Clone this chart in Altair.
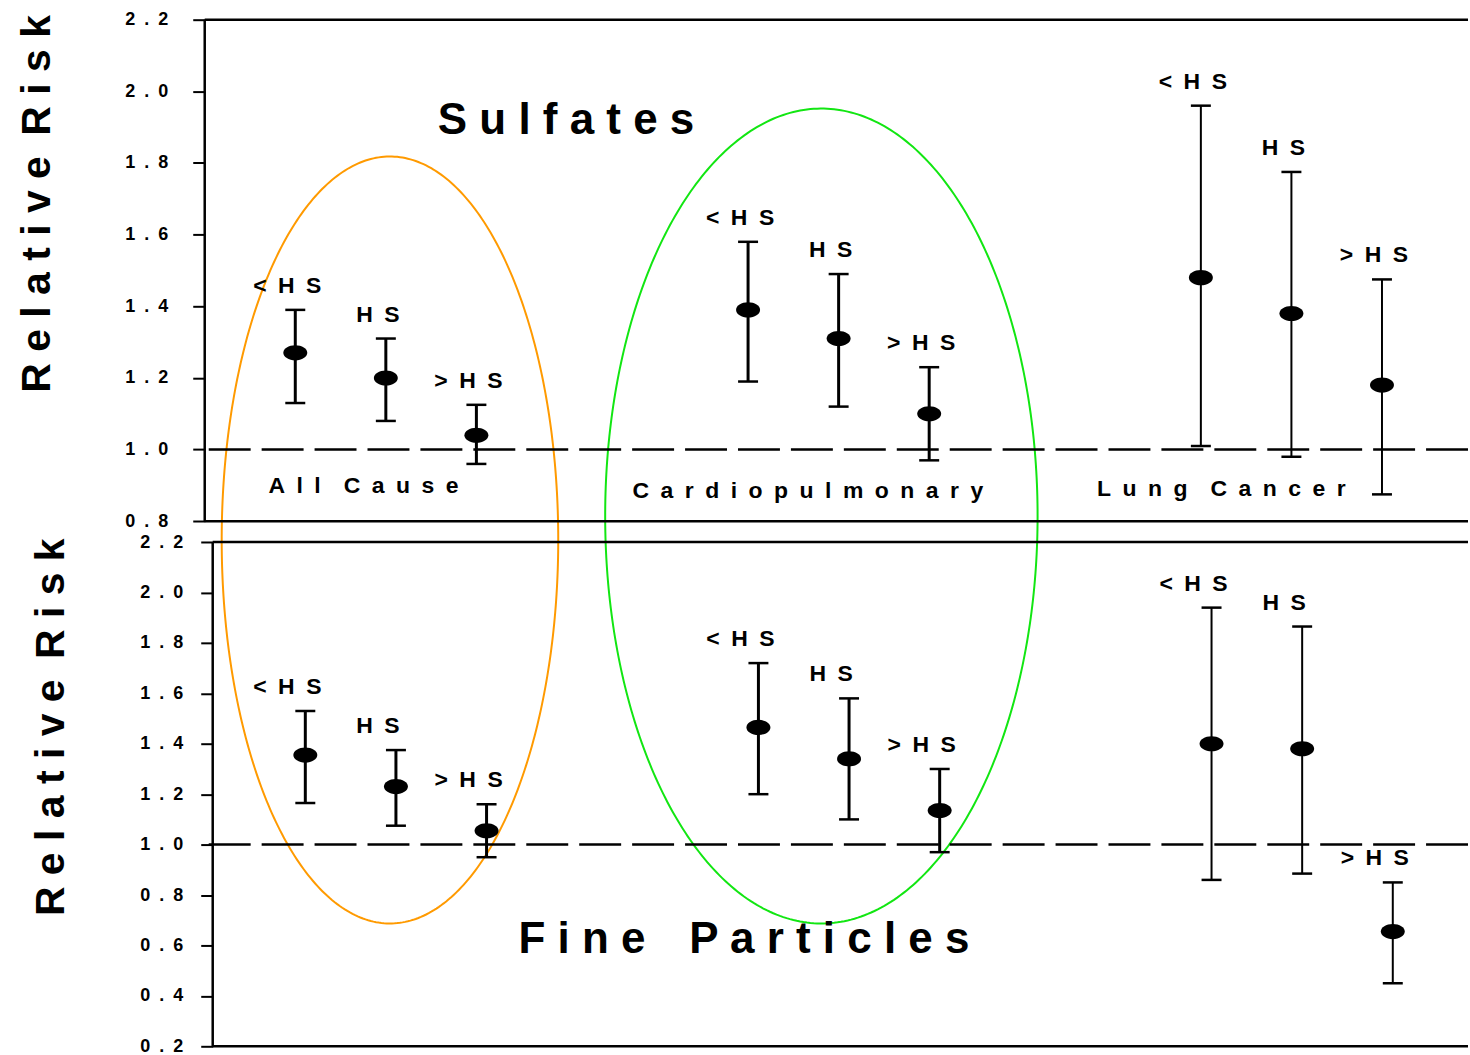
import altair as alt
import numpy as np
import pandas as pd

# ---------------- data ----------------
causes = ["All Cause", "Cardiopulmonary", "Lung Cancer"]
levels = ["<HS", "HS", ">HS"]
level_text = ["<\u2002H\u2002S", "H\u2002S", ">\u2002H\u2002S"]

sulf_rr = [1.27, 1.20, 1.04, 1.39, 1.31, 1.10, 1.48, 1.38, 1.18]
sulf_lo = [1.13, 1.08, 0.96, 1.19, 1.12, 0.97, 1.01, 0.98, 0.875]
sulf_hi = [1.39, 1.31, 1.125, 1.58, 1.49, 1.23, 1.96, 1.775, 1.475]

fine_rr = [1.355, 1.23, 1.055, 1.465, 1.34, 1.135, 1.40, 1.38, 0.655]
fine_lo = [1.165, 1.075, 0.95, 1.20, 1.10, 0.97, 0.86, 0.885, 0.45]
fine_hi = [1.53, 1.375, 1.16, 1.72, 1.58, 1.30, 1.94, 1.865, 0.85]

top_ticks = [0.8, 1.0, 1.2, 1.4, 1.6, 1.8, 2.0, 2.2]
bot_ticks = [0.2, 0.4, 0.6, 0.8, 1.0, 1.2, 1.4, 1.6, 1.8, 2.0, 2.2]
ref_value = [1.0]

# ---------------- geometry ----------------
FONT = "Liberation Sans"
W = 1265
H_TOP, H_BOT = 513, 515
LEFT, TOP = 205, 18
TOP_X = [0, 13.95]
BOT_X = [-0.11, 13.83]
TOP_Y = [0.77, 2.2]
BOT_Y = [0.2, 2.24]
BOT_TOP = TOP + H_TOP


def panel_df(rr, lo, hi):
    rows = []
    for gi, c in enumerate(causes):
        for li, l in enumerate(levels):
            k = gi * 3 + li
            rows.append(dict(cause=c, level=l, lab=level_text[li], gi=gi, li=li,
                             rr=rr[k], lo=lo[k], hi=hi[k]))
    return pd.DataFrame(rows)


# ellipse annotations (page pixel geometry: cx, cy, rx, ry)
ellipses = {"orange": (390.5, 539, 168.5, 384), "green": (822.5, 515, 216.5, 408)}


def ellipse_df(xdom, ydom, y0, h):
    rows = []
    t = np.linspace(0, 2 * np.pi, 400)
    for name, (cx, cy, rx, ry) in ellipses.items():
        px = cx + rx * np.cos(t)
        py = cy + ry * np.sin(t)
        ex = xdom[0] + (px - LEFT) / W * (xdom[1] - xdom[0])
        ey = ydom[1] - (py - y0) / h * (ydom[1] - ydom[0])
        for k in range(len(t)):
            rows.append(dict(ell=name, k=k, ex=ex[k], ey=ey[k]))
    return pd.DataFrame(rows)


def make_panel(df, xdom, ydom, h, y0, ticks, frame_lo, axis_offset, frame_x0,
               title_x, title_y, label_pad, label_dx, big_text, group_texts):
    xsc = alt.Scale(domain=xdom, nice=False, zero=False)
    ysc = alt.Scale(domain=ydom, nice=False, zero=False)
    s = "\u2002"
    yaxis = alt.Axis(
        values=ticks, grid=False, domain=False,
        labelExpr=f"slice(format(datum.value,'.1f'),0,1) + '{s}.{s}' + slice(format(datum.value,'.1f'),2,3)",
        labelFont=FONT, labelFontSize=18, labelFontWeight="bold", labelColor="black",
        labelPadding=label_pad, tickSize=12, tickWidth=2, tickColor="black",
        offset=axis_offset,
        title="R e l a t i v e\u2002R i s k", titleFont=FONT, titleFontSize=41,
        titleFontWeight="bold", titleColor="black", titleAngle=270,
        titleX=title_x, titleY=title_y, titleAlign="center", titleBaseline="middle",
    )

    def X(f):
        return alt.X(f, scale=xsc, axis=None)

    def Y(f):
        return alt.Y(f, scale=ysc, axis=yaxis)

    base = alt.Chart(df).transform_calculate(xpos="datum.gi * 5 + datum.li + 1")

    ell = alt.Chart(ellipse_df(xdom, ydom, y0, h)).mark_line(clip=True, strokeWidth=2).encode(
        x=X("ex:Q"), y=Y("ey:Q"),
        color=alt.Color("ell:N", scale=alt.Scale(domain=["orange", "green"],
                                                 range=["#ff9a00", "#12e612"]), legend=None),
        order="k:Q",
    )
    dashed = alt.Chart(pd.DataFrame({"v": ref_value})).mark_rule(
        strokeDash=[42, 11], strokeWidth=2.5, color="black").encode(y=Y("v:Q"))
    frame_h = alt.Chart(pd.DataFrame({"v": [frame_lo, 2.2]})).mark_rule(
        strokeWidth=2.5, color="black").encode(
        y=Y("v:Q"), x=alt.value(frame_x0), x2=alt.value(W))
    frame_v = alt.Chart(pd.DataFrame({"lo": [frame_lo], "hi": [2.2]})).mark_rule(
        strokeWidth=2.5, color="black").encode(
        y=Y("lo:Q"), y2="hi:Q", x=alt.value(frame_x0))

    whisk = base.mark_rule(color="black").encode(
        x=X("xpos:Q"), y=Y("lo:Q"), y2="hi:Q",
        strokeWidth=alt.condition("datum.gi == 2", alt.value(2), alt.value(3)))
    cap_hi = base.mark_rule(color="black", strokeWidth=2.5, xOffset=-10, x2Offset=10).encode(
        x=X("xpos:Q"), x2="xpos:Q", y=Y("hi:Q"))
    cap_lo = base.mark_rule(color="black", strokeWidth=2.5, xOffset=-10, x2Offset=10).encode(
        x=X("xpos:Q"), x2="xpos:Q", y=Y("lo:Q"))
    dots = base.mark_point(
        shape="M-1,0A1,0.63,0,1,1,1,0A1,0.63,0,1,1,-1,0Z",
        size=576, filled=True, color="black", opacity=1).encode(x=X("xpos:Q"), y=Y("rr:Q"))
    labels = base.mark_text(dy=-24, dx=label_dx, font=FONT, fontSize=23, fontWeight="bold",
                            color="black", baseline="middle").encode(
        x=X("xpos:Q"), y=Y("hi:Q"), text="lab:N")

    bt_df = pd.DataFrame([big_text])
    big = alt.Chart(bt_df).mark_text(font=FONT, fontSize=44, fontWeight="bold",
                                     color="black", baseline="middle").encode(
        x=X("x:Q"), y=Y("y:Q"), text="t:N")
    layers = [ell, dashed, frame_h, frame_v, whisk, cap_hi, cap_lo, dots, labels, big]
    if group_texts:
        gt = alt.Chart(pd.DataFrame(group_texts)).mark_text(
            font=FONT, fontSize=23, fontWeight="bold", color="black", baseline="middle").encode(
            x=X("x:Q"), y=Y("y:Q"), text="t:N")
        layers.append(gt)
    return alt.layer(*layers).properties(width=W, height=h)


def spaced(word):
    return "\u2002".join(list(word))


top = make_panel(
    panel_df(sulf_rr, sulf_lo, sulf_hi), TOP_X, TOP_Y, H_TOP, TOP, top_ticks, 0.8,
    0, 0, -167, 184, 25, -8,
    dict(x=3.99, y=1.918, t="S u l f a t e s"),
    [dict(x=1.753, y=0.898, t=spaced("All") + "\u2003" + spaced("Cause")),
     dict(x=6.66, y=0.884, t=spaced("Cardiopulmonary")),
     dict(x=11.226, y=0.89, t=spaced("Lung") + "\u2003" + spaced("Cancer"))],
)
bottom = make_panel(
    panel_df(fine_rr, fine_lo, fine_hi), BOT_X, BOT_Y, H_BOT, BOT_TOP, bot_ticks, 0.2,
    -8, 8, -161, 195, 18, -18,
    dict(x=5.84, y=0.62, t="F i n e\u2003P a r t i c l e s"),
    [],
)

chart = alt.vconcat(top, bottom, spacing=0, bounds="flush").properties(
    padding={"left": 17, "top": 10, "right": 0, "bottom": 0},
    background="white",
).configure_view(stroke=None)

chart.save("out.html", embed_options={"renderer": "svg", "actions": False})
